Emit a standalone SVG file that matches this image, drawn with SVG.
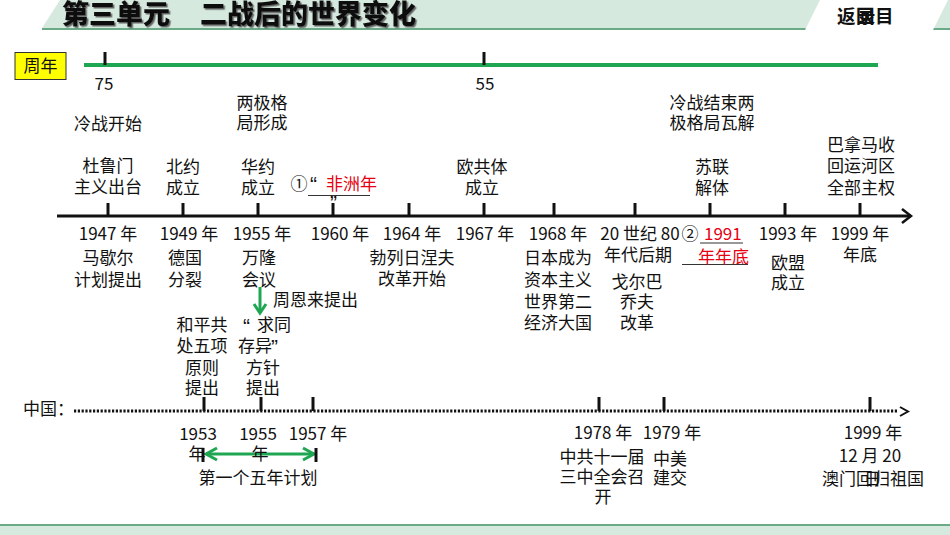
<svg xmlns="http://www.w3.org/2000/svg" width="950" height="535" viewBox="0 0 950 535">
<style>
.t{font-family:"Noto Sans CJK SC","Noto Sans",sans-serif;font-size:17px;fill:#111}
.c{text-anchor:middle}
.r{fill:#e60012}
.q{font-family:"Liberation Sans",sans-serif;font-size:21px;fill:#111}
.tick{stroke:#111;stroke-width:3}
.g{stroke:#1fa653;stroke-width:3;fill:none}
.ul{stroke:#333;stroke-width:1}
.title{font-family:"Noto Sans CJK SC",sans-serif;font-size:27px;font-weight:900;fill:#111}
</style>
<defs>
<filter id="sh" x="-5%" y="-20%" width="110%" height="150%">
<feDropShadow dx="1.5" dy="1.5" stdDeviation="0.6" flood-color="#555" flood-opacity="0.9"/>
</filter>
</defs>
<rect width="950" height="535" fill="#fff"/>
<g id="header">
<polygon points="60,0 950,0 950,28 42,28" fill="#d6e9df"/>
<line x1="42" y1="29" x2="950" y2="29" stroke="#6aaa86" stroke-width="2"/>
<polygon points="820,0 948,0 933,30 805,30" fill="#fff"/>
<g class="title" filter="url(#sh)">
<text x="62" y="23.5">第三单元</text>
<text x="200" y="23.5">二战后的世界变化</text>
</g>
<g font-family="Noto Sans CJK SC,sans-serif" font-size="18.5" font-weight="bold" fill="#111">
<text x="837" y="23">返</text>
<text x="856" y="23">回</text>
<text x="857" y="23">录</text>
<text x="875" y="23">目</text>
</g>
</g>
<g id="footer">
<rect x="0" y="525" width="950" height="10" fill="#d6e9df"/>
<line x1="0" y1="525" x2="950" y2="525" stroke="#6aaa86" stroke-width="2"/>
</g>
<g id="anniversary">
<rect x="15" y="52.5" width="51" height="27" fill="#ffff00" stroke="#333" stroke-width="1"/>
<text class="t c" x="40.5" y="72" font-size="17.5">周年</text>
<line x1="84" y1="65" x2="878" y2="65" stroke="#1fa653" stroke-width="4"/>
<line class="tick" x1="105" y1="52" x2="105" y2="65"/>
<line class="tick" x1="484" y1="52" x2="484" y2="65"/>
<text class="t c" x="104" y="90" font-size="15">75</text>
<text class="t c" x="485" y="90" font-size="15">55</text>
</g>
<g id="connectors">
<line x1="57" y1="216" x2="911" y2="216" stroke="#111" stroke-width="3"/>
<polyline points="902,209 911,216 902,223" fill="none" stroke="#111" stroke-width="2.5"/>
<g class="tick">
<line x1="108" y1="203" x2="108" y2="216"/>
<line x1="183" y1="203" x2="183" y2="216"/>
<line x1="258" y1="203" x2="258" y2="216"/>
<line x1="333" y1="203" x2="333" y2="216"/>
<line x1="409" y1="203" x2="409" y2="216"/>
<line x1="484" y1="203" x2="484" y2="216"/>
<line x1="554" y1="203" x2="554" y2="216"/>
<line x1="635" y1="203" x2="635" y2="216"/>
<line x1="710" y1="203" x2="710" y2="216"/>
<line x1="785" y1="203" x2="785" y2="216"/>
<line x1="860" y1="203" x2="860" y2="216"/>
</g>
<line x1="74" y1="411" x2="898" y2="411" stroke="#111" stroke-width="3" stroke-dasharray="2.2 1.6"/>
<polyline points="900,407 908,411.5 900,416" fill="none" stroke="#111" stroke-width="2"/>
<g class="tick">
<line x1="204" y1="397" x2="204" y2="411"/>
<line x1="261" y1="397" x2="261" y2="411"/>
<line x1="313" y1="397" x2="313" y2="411"/>
<line x1="599" y1="397" x2="599" y2="411"/>
<line x1="664" y1="397" x2="664" y2="411"/>
<line x1="870" y1="397" x2="870" y2="411"/>
</g>
<line class="g" x1="260" y1="287" x2="260" y2="313"/>
<polyline class="g" points="254,304 260,313 266,304"/>
<line class="g" x1="206" y1="454" x2="314" y2="454"/>
<polyline class="g" points="217,448 206,454 217,460"/>
<polyline class="g" points="303,448 314,454 303,460"/>
<line class="tick" x1="203" y1="448" x2="203" y2="462"/>
<line class="tick" x1="316" y1="448" x2="316" y2="462"/>
</g>
<g id="e1947">
<text class="t c" x="108" y="130">冷战开始</text>
<text class="t c" x="108" y="172">杜鲁门</text>
<text class="t c" x="108" y="193">主义出台</text>
<text class="t c" x="108" y="240">1947 年</text>
<text class="t c" x="108" y="264">马歇尔</text>
<text class="t c" x="108" y="286">计划提出</text>
</g>
<g id="e1949">
<text class="t c" x="183" y="173">北约</text>
<text class="t c" x="183" y="194">成立</text>
<text class="t c" x="189" y="240">1949 年</text>
<text class="t c" x="185" y="264">德国</text>
<text class="t c" x="185" y="286">分裂</text>
</g>
<g id="e1955">
<text class="t c" x="262" y="109">两极格</text>
<text class="t c" x="262" y="129">局形成</text>
<text class="t c" x="258" y="173">华约</text>
<text class="t c" x="258" y="194">成立</text>
<text class="t c" x="262" y="240">1955 年</text>
<text class="t c" x="259" y="264">万隆</text>
<text class="t c" x="259" y="286">会议</text>
<text class="t" x="273" y="306">周恩来提出</text>
<text class="q" x="243" y="333">“</text>
<text class="t" x="257" y="331">求同</text>
<text class="t" x="238" y="352">存异</text>
<text class="q" x="271" y="354">”</text>
<text class="t c" x="263" y="374">方针</text>
<text class="t c" x="263" y="394">提出</text>
</g>
<g id="e1960">
<text class="t c" x="299" y="190">①</text>
<text class="q r" x="310" y="191">“</text>
<text class="t r" x="326" y="190">非洲年</text>
<line class="ul" x1="308" y1="195.5" x2="370" y2="195.5"/>
<text class="q r" x="330" y="210">”</text>
<text class="t c" x="340" y="240">1960 年</text>
</g>
<g id="e1964">
<text class="t c" x="412" y="240">1964 年</text>
<text class="t c" x="412" y="264">勃列日涅夫</text>
<text class="t c" x="412" y="285">改革开始</text>
</g>
<g id="e1967">
<text class="t c" x="482" y="173">欧共体</text>
<text class="t c" x="482" y="194">成立</text>
<text class="t c" x="485" y="240">1967 年</text>
</g>
<g id="e1968">
<text class="t c" x="558" y="240">1968 年</text>
<text class="t c" x="558" y="264">日本成为</text>
<text class="t c" x="558" y="286">资本主义</text>
<text class="t c" x="558" y="308">世界第二</text>
<text class="t c" x="558" y="329">经济大国</text>
</g>
<g id="e1980s">
<text class="t c" x="640" y="240">20 世纪 80</text>
<text class="t c" x="638" y="261">年代后期</text>
<text class="t c" x="637" y="288">戈尔巴</text>
<text class="t c" x="637" y="308">乔夫</text>
<text class="t c" x="637" y="329">改革</text>
</g>
<g id="e1991">
<text class="t c" x="712" y="109">冷战结束两</text>
<text class="t c" x="712" y="129">极格局瓦解</text>
<text class="t c" x="712" y="173">苏联</text>
<text class="t c" x="712" y="194">解体</text>
<text class="t c" x="690" y="240">②</text>
<text class="t r" x="704" y="240">1991</text>
<line class="ul" x1="700" y1="243" x2="743" y2="243"/>
<line class="ul" x1="682" y1="264.5" x2="748" y2="264.5"/>
<text class="t r" x="698" y="263">年年底</text>
</g>
<g id="e1993">
<text class="t c" x="788" y="240">1993 年</text>
<text class="t c" x="788" y="269">欧盟</text>
<text class="t c" x="788" y="289">成立</text>
</g>
<g id="e1999">
<text class="t c" x="861" y="151">巴拿马收</text>
<text class="t c" x="861" y="172">回运河区</text>
<text class="t c" x="861" y="194">全部主权</text>
<text class="t c" x="860" y="240">1999 年</text>
<text class="t c" x="860" y="261">年底</text>
</g>
<g id="china">
<text class="t" x="23" y="415">中国：</text>
</g>
<g id="c1953">
<text class="t c" x="202" y="331">和平共</text>
<text class="t c" x="202" y="352">处五项</text>
<text class="t c" x="202" y="374">原则</text>
<text class="t c" x="202" y="394">提出</text>
<text class="t c" x="198" y="440">1953</text>
<text class="t c" x="197" y="460">年</text>
</g>
<g id="c1955">
<text class="t c" x="258" y="440">1955</text>
<text class="t c" x="260" y="460">年</text>
</g>
<g id="c1957">
<text class="t c" x="318" y="440">1957 年</text>
<text class="t c" x="258" y="484">第一个五年计划</text>
</g>
<g id="c1978">
<text class="t c" x="603" y="439">1978 年</text>
<text class="t c" x="602" y="463">中共十一届</text>
<text class="t c" x="602" y="483">三中全会召</text>
<text class="t c" x="603" y="503">开</text>
</g>
<g id="c1979">
<text class="t c" x="672" y="439">1979 年</text>
<text class="t c" x="670" y="465">中美</text>
<text class="t c" x="670" y="484">建交</text>
</g>
<g id="c1999">
<text class="t c" x="873" y="439">1999 年</text>
<text class="t c" x="870" y="462">12 月 20</text>
<text class="t" x="822" y="485">澳门回归祖国</text>
<text class="t" x="864" y="485">日</text>
</g>
</svg>
